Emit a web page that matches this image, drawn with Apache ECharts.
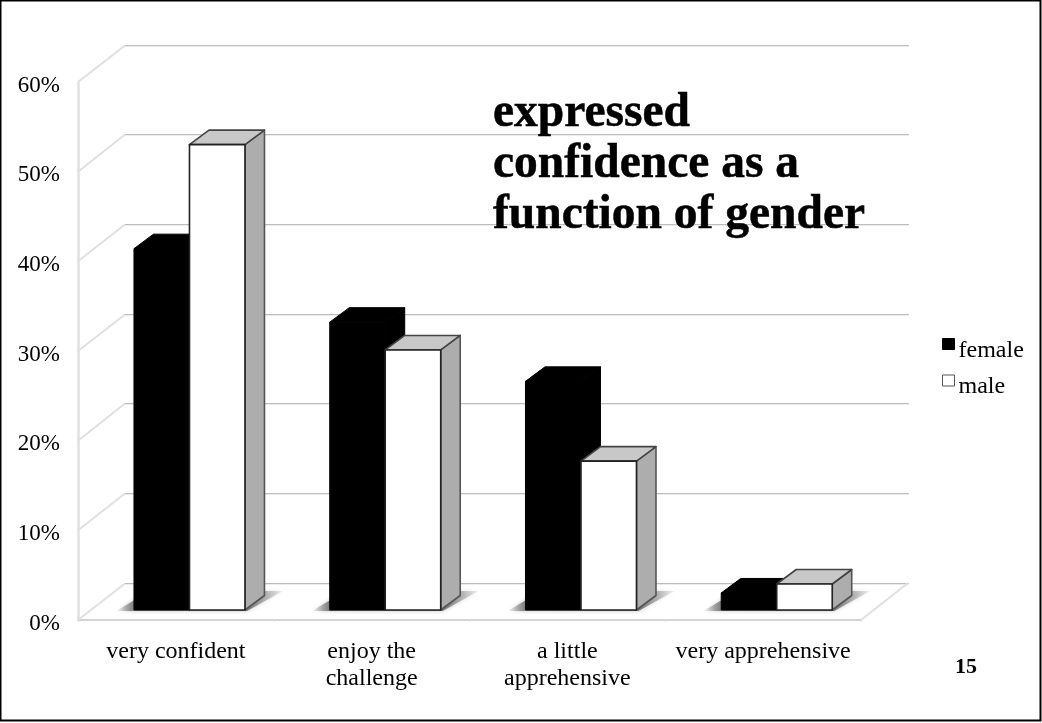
<!DOCTYPE html>
<html><head><meta charset="utf-8">
<style>html,body{margin:0;padding:0;background:#fff}#c{width:1042px;height:723px}</style>
<script src="https://cdn.jsdelivr.net/npm/echarts@6/dist/echarts.min.js"></script>
</head><body><div id="c"></div>
<script>
const categories = ['very confident','enjoy the\nchallenge','a little\napprehensive','very apprehensive'];
const female = [40.3, 32.1, 25.5, 1.9];
const male = [51.9, 29, 16.6, 2.9];
const yTicks = [0,10,20,30,40,50,60];

const FONT = '"Liberation Serif","Times New Roman",serif';
const WALL = {dx:47, dy:37};
const PLANE = {dx:13.6, dy:10};
const DEPTH = {dx:19.5, dy:14.5};
const BAR_FRAC = 0.2835;

function poly(points, style){ return {type:'polygon', shape:{points}, style}; }

function wallItem(params, api){
  const v = api.value(0);
  const l = api.coord([0, v]);
  const band = api.size([1,0])[0];
  const xl = l[0] - band/2, y = l[1];
  const xr = xl + band*4;
  const by = Math.floor(y-WALL.dy)+0.5;
  const children = [
    {type:'line',shape:{x1:xl,y1:y,x2:xl+WALL.dx,y2:by},style:{stroke:'#e0e0e0',lineWidth:2}},
    {type:'line',shape:{x1:xl+WALL.dx,y1:by+1,x2:xr+WALL.dx+1,y2:by+1},style:{stroke:'#ececec',lineWidth:1}},
    {type:'line',shape:{x1:xl+WALL.dx,y1:by,x2:xr+WALL.dx+1,y2:by},style:{stroke:'#bdbdbd',lineWidth:1}}
  ];
  if (v === 0) children.push({type:'line',shape:{x1:xr,y1:y,x2:xr+WALL.dx,y2:y-WALL.dy},style:{stroke:'#e0e0e0',lineWidth:2}});
  return {type:'group',children};
}

function shadowItem(params, api){
  const c = api.coord([params.dataIndex, 0]);
  const band = api.size([1,0])[0];
  const xc = c[0] + PLANE.dx, y = c[1] - PLANE.dy;
  const w = band*BAR_FRAC;
  const grad = {type:'linear',x:0,y:0,x2:1,y2:0,colorStops:[
    {offset:0,color:'rgba(133,133,133,0)'},{offset:.1,color:'#858585'},
    {offset:.8,color:'#7d7d7d'},{offset:1,color:'rgba(160,160,160,.15)'}]};
  return poly([[xc-w-18,y+1],[xc+w+2,y+1],[xc+w+38,y-19],[xc-w+16,y-19]],
    {fill:grad,shadowBlur:4,shadowColor:'rgba(140,140,140,.5)'});
}

function barItem(isMale){
  return function(params, api){
    const i = api.value(0), v = api.value(1);
    const base = api.coord([i, 0]), top = api.coord([i, v]);
    const band = api.size([1,0])[0];
    const w = band*BAR_FRAC;
    const xc = base[0] + PLANE.dx;
    const x0 = isMale ? xc : xc - w, x1 = x0 + w;
    const yb = base[1] - PLANE.dy, yt = top[1] - PLANE.dy;
    const d = DEPTH;
    const frontP = [[x0,yt],[x1,yt],[x1,yb],[x0,yb]];
    const topP = [[x0,yt],[x0+d.dx,yt-d.dy],[x1+d.dx,yt-d.dy],[x1,yt]];
    const sideP = [[x1,yt],[x1+d.dx,yt-d.dy],[x1+d.dx,yb-d.dy],[x1,yb]];
    const s = (fill,stroke)=> isMale ? {fill,stroke,lineWidth:1.6,lineJoin:'round'} : {fill:'#000',stroke:'#000',lineWidth:1};
    return {type:'group',children:[
      poly(sideP,s('#adadad','#555')),
      poly(topP,s('#c8c8c8','#444')),
      poly(frontP,s(isMale ? '#fff':'#000','#222'))
    ]};
  };
}

const chart = echarts.init(document.getElementById('c'),null,{renderer:'canvas'});
chart.setOption({
  animation:false,
  backgroundColor:'#fff',
  title:{
    text:'expressed\nconfidence as a\nfunction of gender',
    left:493, top:88, padding:0,
    textStyle:{fontFamily:FONT,fontWeight:'bold',fontSize:47.5,lineHeight:51,color:'#000',textBorderColor:'#000',textBorderWidth:0.5}
  },
  legend:{
    orient:'vertical', left:942, top:338, padding:0, itemGap:12, itemWidth:12, itemHeight:11, itemStyle:{borderWidth:1},
    formatter:'{t|{name}}',
    textStyle:{rich:{t:{fontFamily:FONT,fontSize:24,color:'#000',padding:[13,0,0,-1]}}},
    icon:'rect',
    data:[{name:'female',itemStyle:{color:'#000',borderColor:'#000'}},{name:'male',itemStyle:{color:'#fff',borderColor:'#555'}}]
  },
  grid:{left:78,right:181,top:82,bottom:103,containLabel:false},
  xAxis:{
    type:'category',data:categories,
    axisLine:{lineStyle:{color:'#d4d4d4',width:2}},
    axisTick:{show:true,length:2,lineStyle:{color:'#e2e2e2'}},
    axisLabel:{fontFamily:FONT,fontSize:24,color:'#000',margin:18,lineHeight:27,interval:0},
    splitLine:{show:false}
  },
  yAxis:{
    type:'value',min:0,max:60,interval:10,
    axisLine:{show:true,lineStyle:{color:'#e0e0e0',width:2.5}},
    axisTick:{show:false},
    axisLabel:{margin:18,formatter:'{t|{value}%}',rich:{t:{fontFamily:FONT,fontSize:23,color:'#000',padding:[7,0,0,0]}}},
    splitLine:{show:false}
  },
  series:[
    {type:'custom',name:'wall',silent:true,renderItem:wallItem,data:yTicks.map(v=>[v]),encode:{y:0},z:1},
    {type:'custom',name:'shadow',silent:true,renderItem:shadowItem,data:categories.map((c,i)=>[i,0]),encode:{x:0,y:1},z:2},
    {type:'custom',name:'female',renderItem:barItem(false),data:female.map((v,i)=>[i,v]),encode:{x:0,y:1},itemStyle:{color:'#000'},z:3},
    {type:'custom',name:'male',renderItem:barItem(true),data:male.map((v,i)=>[i,v]),encode:{x:0,y:1},itemStyle:{color:'#fff'},z:4}
  ],
  graphic:[
    {type:'rect',shape:{x:0.5,y:0.5,width:1040,height:720},style:{fill:'none',stroke:'#000',lineWidth:2},z:10},
    {type:'text',left:955,top:656,style:{text:'15',font:'bold 22px '+FONT,fill:'#000'},z:10}
  ]
});
</script></body></html>
